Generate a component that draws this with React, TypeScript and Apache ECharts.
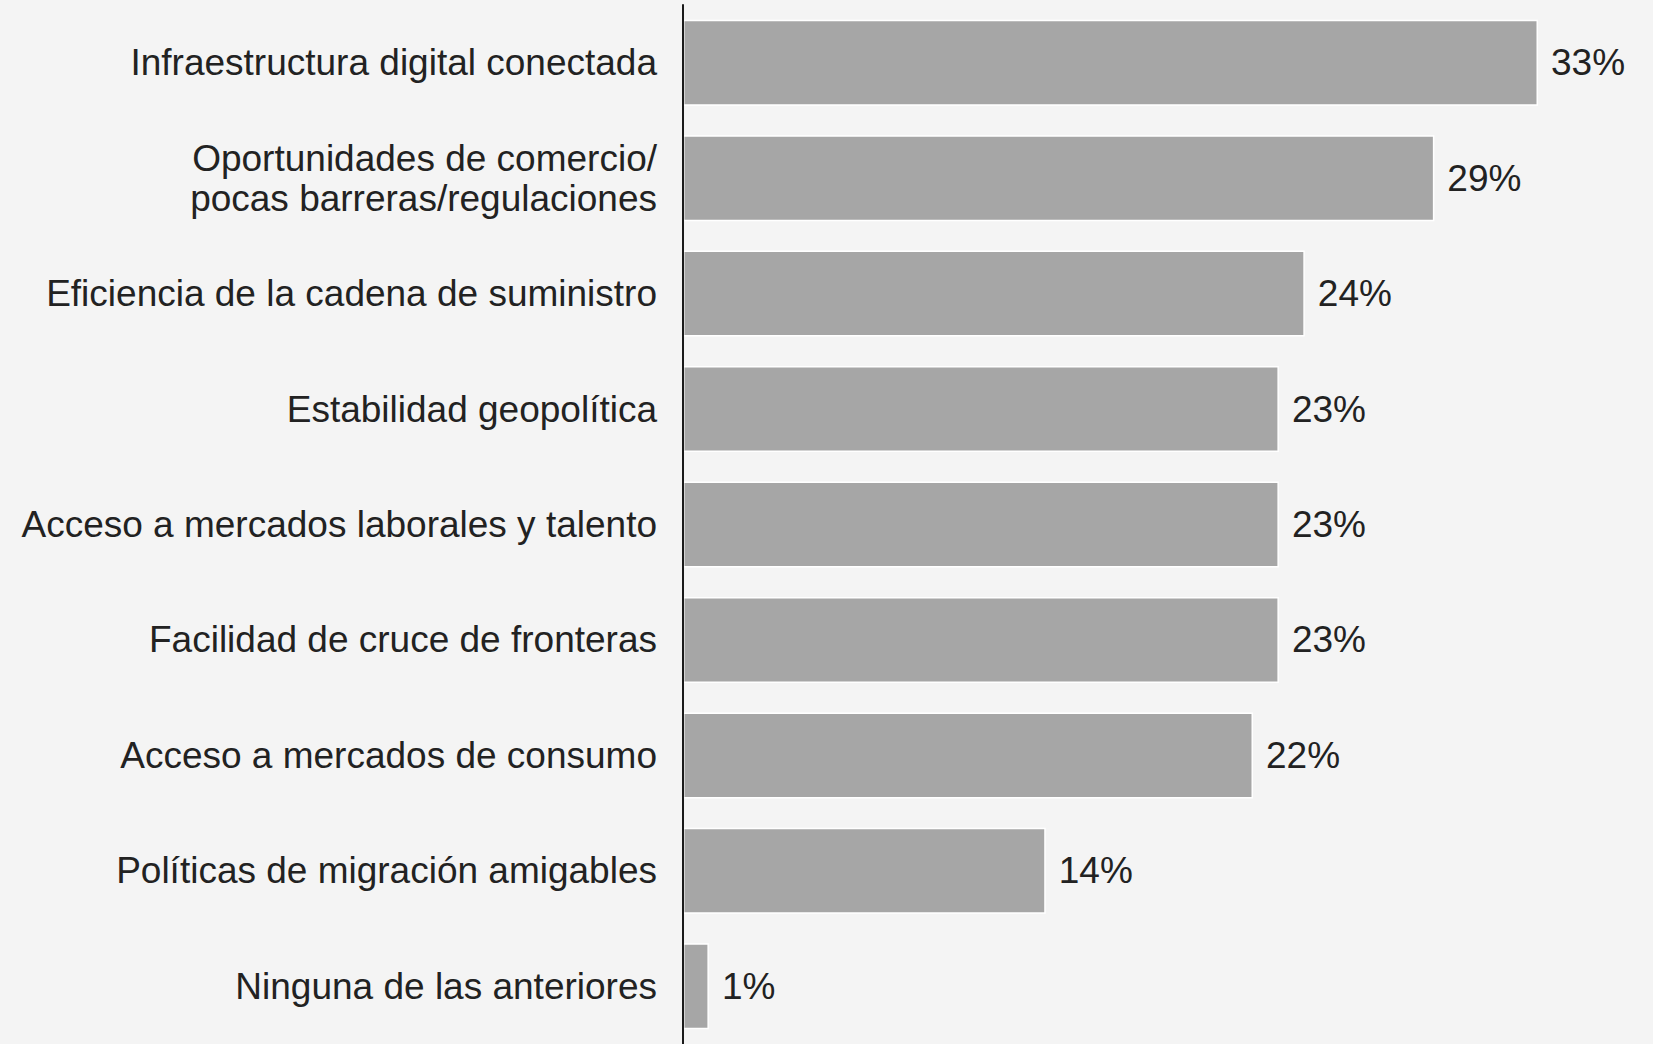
import React, { useEffect, useRef } from "react";
import * as echarts from "echarts";

const categories = [
  "Infraestructura digital conectada",
  "Oportunidades de comercio/\npocas barreras/regulaciones",
  "Eficiencia de la cadena de suministro",
  "Estabilidad geopolítica",
  "Acceso a mercados laborales y talento",
  "Facilidad de cruce de fronteras",
  "Acceso a mercados de consumo",
  "Políticas de migración amigables",
  "Ninguna de las anteriores",
];
const values = [33, 29, 24, 23, 23, 23, 22, 14, 1];

export default function App() {
  const ref = useRef<HTMLDivElement>(null);
  useEffect(() => {
    if (!ref.current) return;
    const chart = echarts.init(ref.current, null, { renderer: "svg" });
    chart.setOption({
      animation: false,
      backgroundColor: "#f4f4f4",
      grid: { left: 683, top: 5, width: 969, height: 1043 },
      xAxis: {
        type: "value",
        min: 0,
        max: 37.4,
        show: false,
      },
      yAxis: {
        type: "category",
        inverse: true,
        data: categories,
        z: 5,
        axisLine: { show: true, lineStyle: { color: "#1a1a1a", width: 2 } },
        axisTick: { show: false },
        axisLabel: {
          margin: 26,
          fontFamily: "Liberation Sans",
          fontSize: 37,
          color: "#222222",
          lineHeight: 40,
          align: "right",
        },
      },
      series: [
        {
          type: "bar",
          data: values,
          barWidth: 86,
          itemStyle: { color: "#a6a6a6", borderColor: "#ffffff", borderWidth: 1.5 },
          label: {
            show: true,
            position: "right",
            distance: 13,
            formatter: "{c}%",
            fontFamily: "Liberation Sans",
            fontSize: 37,
            color: "#222222",
          },
        },
      ],
    });
    return () => chart.dispose();
  }, []);
  return (
    <div
      ref={ref}
      style={{ position: "fixed", left: 0, top: 0, width: 1653, height: 1044 }}
    />
  );
}
